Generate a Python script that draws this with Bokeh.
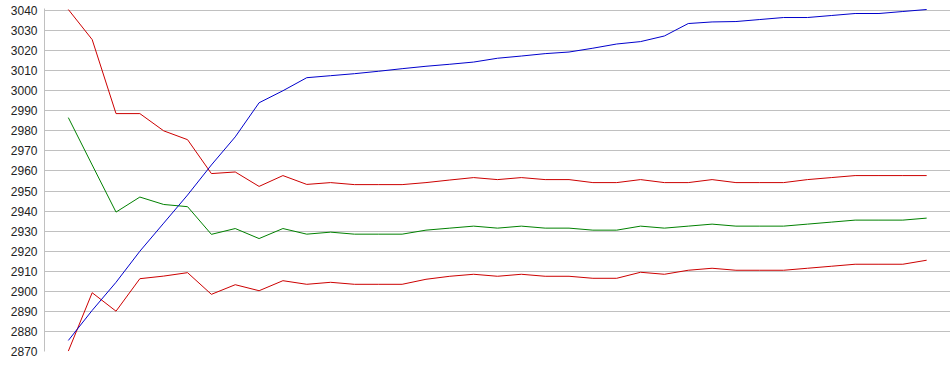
from bokeh.plotting import figure
from bokeh.models import FixedTicker, Range1d
from bokeh.embed import file_html
from bokeh.resources import INLINE

x_index = list(range(1, 38))
y_ticks = [2870, 2880, 2890, 2900, 2910, 2920, 2930, 2940, 2950, 2960, 2970,
           2980, 2990, 3000, 3010, 3020, 3030, 3040]

blue_series = [2875.5, 2890.5, 2904.5, 2920, 2934, 2948, 2963, 2977, 2994, 3000,
               3006.5, 3007.5, 3008.5, 3009.7, 3011, 3012.2, 3013.2, 3014.3, 3016.2, 3017.3,
               3018.5, 3019.3, 3021.2, 3023.3, 3024.5, 3027.3, 3033.5, 3034.3, 3034.5, 3035.5,
               3036.5, 3036.5, 3037.5, 3038.5, 3038.5, 3039.5, 3040.5]
red_upper = [3040.5, 3025.5, 2988.6, 2988.6, 2980, 2975.6, 2958.7, 2959.5, 2952.3, 2957.7,
             2953.3, 2954.2, 2953.2, 2953.2, 2953.2, 2954.2, 2955.5, 2956.7, 2955.7, 2956.7,
             2955.7, 2955.7, 2954.2, 2954.2, 2955.7, 2954.2, 2954.2, 2955.7, 2954.2, 2954.2,
             2954.2, 2955.7, 2956.7, 2957.7, 2957.7, 2957.7, 2957.7]
green_series = [2986.6, 2963, 2939.5, 2947, 2943.3, 2942.2, 2928.4, 2931.3, 2926.3, 2931.3,
                2928.5, 2929.5, 2928.5, 2928.5, 2928.5, 2930.5, 2931.5, 2932.5, 2931.5, 2932.5,
                2931.5, 2931.5, 2930.5, 2930.5, 2932.5, 2931.5, 2932.5, 2933.5, 2932.5, 2932.5,
                2932.5, 2933.5, 2934.5, 2935.5, 2935.5, 2935.5, 2936.5]
red_lower = [2870.2, 2899.3, 2890.1, 2906.3, 2907.6, 2909.3, 2898.5, 2903.3, 2900.3, 2905.3,
             2903.5, 2904.5, 2903.5, 2903.5, 2903.5, 2906, 2907.5, 2908.5, 2907.5, 2908.5,
             2907.5, 2907.5, 2906.5, 2906.5, 2909.5, 2908.5, 2910.5, 2911.5, 2910.5, 2910.5,
             2910.5, 2911.5, 2912.5, 2913.5, 2913.5, 2913.5, 2915.5]

p = figure(width=950, height=367, output_backend="svg", toolbar_location=None,
           x_range=Range1d(0, 38), y_range=Range1d(2870, 3041),
           min_border_left=44, min_border_right=0, min_border_top=8, min_border_bottom=16)
p.outline_line_color = None
p.background_fill_color = "white"
p.border_fill_color = "white"

p.xaxis.visible = False
p.xgrid.visible = False

yax = p.yaxis[0]
yax.ticker = FixedTicker(ticks=y_ticks)
yax.axis_line_color = "#c0c0c0"
yax.major_tick_line_color = None
yax.minor_tick_line_color = None
yax.major_tick_out = 0
yax.major_tick_in = 0
yax.major_label_standoff = 7
yax.major_label_text_font = "Liberation Sans"
yax.major_label_text_font_size = "12px"
yax.major_label_text_color = "#222222"

p.ygrid.ticker = FixedTicker(ticks=y_ticks)
p.ygrid.grid_line_color = "#c0c0c0"
p.ygrid.grid_line_width = 1

p.line(x_index, red_upper, line_color="#cc0000", line_width=1)
p.line(x_index, green_series, line_color="#008000", line_width=1)
p.line(x_index, red_lower, line_color="#cc0000", line_width=1)
p.line(x_index, blue_series, line_color="#0000cc", line_width=1)

open("out.html", "w").write(file_html(p, INLINE))
